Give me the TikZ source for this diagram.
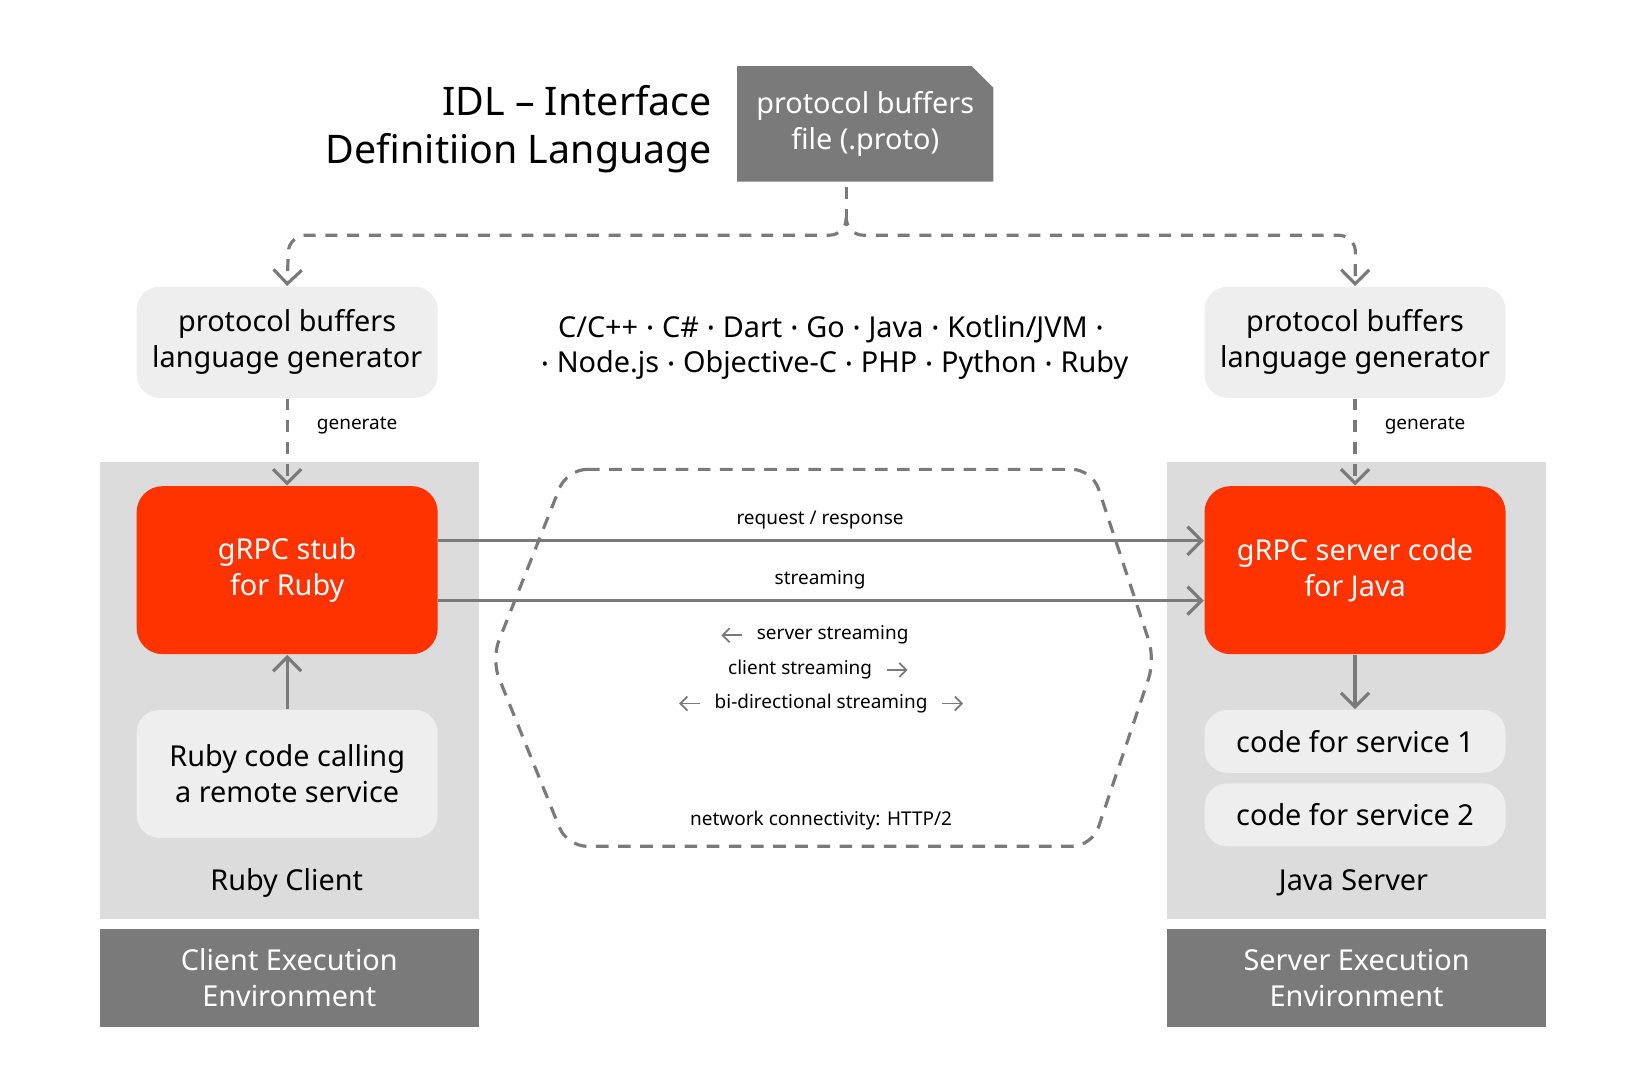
\documentclass[tikz,border=0pt]{standalone}
\usepackage{fontspec}
\setmainfont{Noto Sans}
\usetikzlibrary{arrows.meta,shapes.misc}
\definecolor{grpcred}{HTML}{FF3300}
\definecolor{linegrey}{HTML}{7A7A7A}
\definecolor{envgrey}{HTML}{DCDCDC}
\definecolor{boxgrey}{HTML}{EEEEEE}
\newcommand{\langdot}{\hspace{0.3em}{\fontsize{5}{6}\selectfont\raisebox{0.25ex}{\textbullet}}\hspace{0.3em}}
\tikzset{
  big/.style={font=\fontsize{8.2}{10.2}\selectfont, align=center},
  small/.style={font=\fontsize{5.4}{6.6}\selectfont},
  soft/.style={big, fill=boxgrey, rounded corners=0.23cm, minimum width=3.01cm},
  stub/.style={big, fill=grpcred, text=white, rounded corners=0.26cm,
    minimum width=3.01cm, minimum height=1.68cm},
  env/.style={fill=envgrey, minimum width=3.79cm, minimum height=4.57cm},
  envbar/.style={big, fill=linegrey, text=white, minimum width=3.79cm, minimum height=0.98cm},
  link/.style={draw=linegrey, line width=0.9pt, -{Straight Barb[length=4pt,width=8pt]}},
  dashlink/.style={link, dash pattern=on 3.4pt off 2.8pt},
  tiny/.style={draw=linegrey, line width=0.5pt, -{Straight Barb[length=2pt,width=4pt]}}
}
\begin{document}
\begin{tikzpicture}[x=0.0105cm, y=-0.0105cm]
  \useasboundingbox (0,0) rectangle (1565.7,1030.5);
  % environments
  \node [env] (clientenv) at (275.5,657.5) {};
  \node [env] (serverenv) at (1292,657.5) {};
  \node [envbar] (clientbar) at (275.5,931.5) {Client Execution\\Environment};
  \node [envbar] (serverbar) at (1292,931.5) {Server Execution\\Environment};
  % idl
  \node [big, font=\fontsize{11.2}{13.8}\selectfont, align=right, anchor=east] (idl) at (690,123)
    {IDL – Interface\\Definitiion Language};
  \node [big, fill=linegrey, text=white, chamfered rectangle, chamfered rectangle corners=north east,
    chamfered rectangle xsep=0.09cm, minimum width=2.56cm, minimum height=1.155cm, inner sep=0pt]
    (proto) at (824,118) {protocol buffers\\file (.proto)};
  \node [soft, minimum height=1.11cm] (genl) at (273.5,326) {protocol buffers\\language generator};
  \node [soft, minimum height=1.11cm] (genr) at (1290.5,326) {protocol buffers\\language generator};
  \node [big] (langs) at (791,331)
    {C/C++\langdot C\#\langdot Dart\langdot Go\langdot Java\langdot Kotlin/JVM\langdot\\
     \langdot Node.js\langdot Objective-C\langdot PHP\langdot Python\langdot Ruby};
  % branches
  \coordinate (tick) at (806,178);
  \coordinate (fork) at (806,212);
  \draw [draw=linegrey, line width=0.9pt, dash pattern=on 3.4pt off 2.8pt] (tick) -- (fork);
  \draw [dashlink, rounded corners=0.17cm] (fork) |- (275,224) -- (genl.north);
  \draw [dashlink, rounded corners=0.17cm] (fork) |- (1291,224) -- (genr.north);
  % stubs
  \node [stub] (stub) at (273.5,543) {gRPC stub\\for Ruby};
  \node [stub] (server) at (1290.5,543) {gRPC server code\\for Java};
  \node [soft, minimum height=1.28cm] (rubycode) at (273.5,737) {Ruby code calling\\a remote service};
  \node [soft, minimum height=0.63cm] (svc1) at (1290.5,706) {code for service 1};
  \node [soft, minimum height=0.63cm] (svc2) at (1290.5,776) {code for service 2};
  \node [big] (client) at (273,841) {Ruby Client};
  \node [big] (java) at (1289,841) {Java Server};
  \draw [dashlink] (genl) -- (stub);
  \draw [dashlink] (genr) -- (server);
  \node [small, anchor=west] (genlbl) at (290,405) {generate};
  \node [small, anchor=west] (genrbl) at (1307,405) {generate};
  \draw [link] (rubycode) -- (stub);
  \draw [link] (server) -- (svc1);
  % network
  \draw [draw=linegrey, line width=0.9pt, dash pattern=on 3.6pt off 2.7pt, rounded corners=0.2cm]
    (540,447) -- (1040,447) -- (1100,628) -- (1040,806) -- (540,806) -- (468,628) -- cycle;
  \draw [link] (stub.east |- 0,515) coordinate (rq) -- (server.west |- 0,515);
  \draw [link] (stub.east |- 0,572) coordinate (st) -- (server.west |- 0,572);
  \node [small] (reqlbl) at (781,495) {request / response};
  \node [small] (strlbl) at (781,552) {streaming};
  \node [small] (srvstr) at (793,605) {server streaming};
  \node [small] (clistr) at (762,638) {client streaming};
  \node [small] (bistr) at (782,670) {bi-directional streaming};
  \node [small] (netlbl) at (782,781) {network connectivity: HTTP/2};
  \draw [tiny] (srvstr.west) ++(-2,0) coordinate (a1) -- ++(-20,0);
  \draw [tiny] (clistr.east) ++(2,0) coordinate (a2) -- ++(20,0);
  \draw [tiny] (bistr.west) ++(-2,0) coordinate (a3) -- ++(-20,0);
  \draw [tiny] (bistr.east) ++(2,0) coordinate (a4) -- ++(20,0);
\end{tikzpicture}
\end{document}
